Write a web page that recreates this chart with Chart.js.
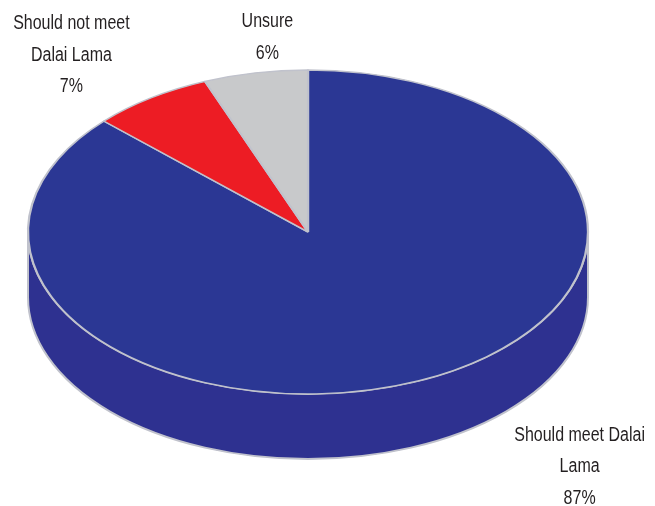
<!DOCTYPE html>
<html>
<head>
<meta charset="utf-8">
<script src="https://cdn.jsdelivr.net/npm/chart.js@4.4.0/dist/chart.umd.min.js"></script>
<style>
  html, body { margin: 0; padding: 0; background: #fff; }
  #wrap { width: 655px; height: 506px; position: relative; }
</style>
</head>
<body>
<div id="wrap"><canvas id="pie"></canvas></div>
<script>
// Poll: should the leader meet the Dalai Lama?
const categories = ['Should meet Dalai Lama', 'Should not meet Dalai Lama', 'Unsure'];
const shares = [87, 7, 6];
// label text, line by line (as wrapped in the original)
const labelLines = [
    ['Should meet Dalai', 'Lama', '87%'],
    ['Should not meet', 'Dalai Lama', '7%'],
    ['Unsure', '6%']
];

const topColors = ['#2b3794', '#ed1c24', '#c8c9cb'];
const sideColors = ['#2e3190', '#b5151b', '#a5a6a8'];
const edgeColor = '#c0c2cc';

// Draws the pie flattened into an ellipse with a wall underneath
const pie3d = {
    id: 'pie3d',
    beforeDatasetsDraw(chart, args, opts) {
        const ctx = chart.ctx;
        const area = chart.chartArea;
        const cx = (area.left + area.right) / 2;
        const cy = (area.top + area.bottom) / 2;
        const rx = area.width / 2;
        const ry = area.height / 2;
        const depth = opts.depth;
        const arcs = chart.getDatasetMeta(0).data;

        // side wall: only the front half (canvas angles 0..PI) shows
        ctx.save();
        arcs.forEach((arc, i) => {
            [-2 * Math.PI, 0, 2 * Math.PI].forEach(k => {
                const s = Math.max(arc.startAngle + k, 0);
                const e = Math.min(arc.endAngle + k, Math.PI);
                if (s >= e) return;
                ctx.beginPath();
                ctx.ellipse(cx, cy, rx, ry, 0, s, e);
                ctx.lineTo(cx + rx * Math.cos(e), cy + depth + ry * Math.sin(e));
                ctx.ellipse(cx, cy + depth, rx, ry, 0, e, s, true);
                ctx.closePath();
                ctx.fillStyle = sideColors[i];
                ctx.fill();
                ctx.lineWidth = 2;
                ctx.strokeStyle = edgeColor;
                ctx.stroke();
            });
        });
        ctx.restore();

        // squash the round pie that Chart.js draws into the ellipse
        const a0 = arcs[0];
        const R = a0.outerRadius;
        ctx.save();
        ctx.translate(cx, cy);
        ctx.scale(rx / R, ry / R);
        ctx.translate(-a0.x, -a0.y);
    },
    afterDatasetsDraw(chart) {
        chart.ctx.restore();
    },
    afterDraw(chart, args, opts) {
        const ctx = chart.ctx;
        const area = chart.chartArea;
        const cx = (area.left + area.right) / 2;
        const cy = (area.top + area.bottom) / 2;
        const rx = area.width / 2;
        const ry = area.height / 2;
        labelLines.forEach((lines, i) => {
            const p = opts.anchors[i];
            const x = cx + p[0] * rx;
            const y = cy + p[1] * ry;
            lines.forEach((t, j) => {
                // narrow face: squeeze a regular sans horizontally
                ctx.save();
                ctx.translate(x, y + j * opts.lineHeight);
                ctx.scale(opts.squeeze, 1);
                ctx.font = opts.font;
                ctx.fillStyle = opts.color;
                ctx.textAlign = 'center';
                ctx.textBaseline = 'alphabetic';
                ctx.fillText(t, 0, 0);
                ctx.restore();
            });
        });
    }
};

new Chart(document.getElementById('pie'), {
    type: 'pie',
    data: {
        labels: categories,
        datasets: [{
            data: shares,
            backgroundColor: topColors,
            borderColor: edgeColor,
            borderWidth: 1.3,
            clip: false
        }]
    },
    options: {
        responsive: true,
        maintainAspectRatio: false,
        animation: false,
        events: [],
        layout: { padding: { left: 28, right: 67, top: 70, bottom: 112 } },
        plugins: {
            legend: { display: false },
            tooltip: { enabled: false },
            pie3d: {
                depth: 65,
                font: "20px 'Liberation Sans', Arial, sans-serif",
                squeeze: 0.8,
                color: '#231f20',
                lineHeight: 31.5,
                // label anchors in radii from the ellipse centre
                anchors: [[0.970, 1.290], [-0.845, -1.253], [-0.145, -1.265]]
            }
        }
    },
    plugins: [pie3d]
});
</script>
</body>
</html>
